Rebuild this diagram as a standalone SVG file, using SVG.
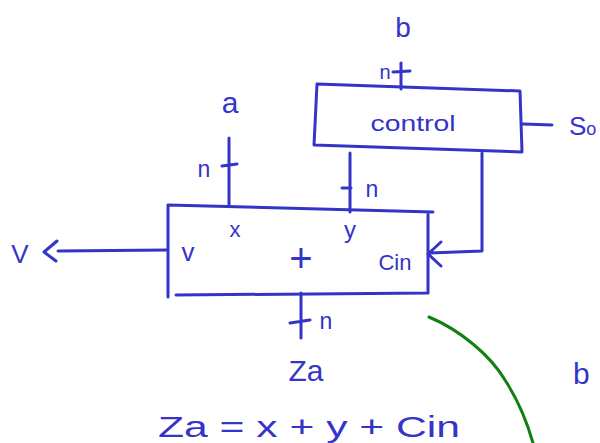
<svg xmlns="http://www.w3.org/2000/svg" width="600" height="443" viewBox="0 0 600 443">
<style>
.s{fill:none;stroke:#3434c8;stroke-width:3;stroke-linecap:round;stroke-linejoin:round}
.t{fill:#3434c8;font-family:"Liberation Sans",sans-serif}
.g{fill:none;stroke:#108010;stroke-width:3;stroke-linecap:round}
</style>
<rect width="600" height="443" fill="#ffffff"/>
<g id="control">
<path class="s" d="M317,84 L520,91 L522,152 L314,145 Z"/>
<text class="t" x="413" y="131" font-size="22" text-anchor="middle" textLength="85" lengthAdjust="spacingAndGlyphs">control</text>
</g>
<g id="adder">
<path class="s" d="M168,205 L168,297 M168,205 L433,212 M428,212 L428,293 M176,295 L428,293"/>
<text class="t" x="188" y="261" font-size="26" text-anchor="middle">v</text>
<text class="t" x="235" y="237" font-size="22" text-anchor="middle">x</text>
<text class="t" x="350" y="238" font-size="24" text-anchor="middle">y</text>
<text class="t" x="301" y="272" font-size="40" text-anchor="middle">+</text>
<text class="t" x="395" y="270" font-size="22" text-anchor="middle">Cin</text>
</g>
<g id="labels">
<text class="t" x="403" y="37" font-size="28" text-anchor="middle">b</text>
<text class="t" x="230" y="113" font-size="30" text-anchor="middle">a</text>
<text class="t" x="569" y="135" font-size="26">S<tspan font-size="18">o</tspan></text>
<text class="t" x="20" y="263" font-size="26" text-anchor="middle">V</text>
<text class="t" x="306" y="381" font-size="30" text-anchor="middle">Za</text>
<text class="t" x="158" y="437" font-size="30" textLength="302" lengthAdjust="spacingAndGlyphs">Za =  x + y + Cin</text>
<text class="t" x="573" y="384" font-size="30">b</text>
<text class="t" x="385" y="79" font-size="20" text-anchor="middle">n</text>
<text class="t" x="204" y="177" font-size="23" text-anchor="middle">n</text>
<text class="t" x="372" y="197" font-size="23" text-anchor="middle">n</text>
<text class="t" x="326" y="329" font-size="23" text-anchor="middle">n</text>
</g>
<g id="connectors">
<path class="s" d="M401,63 L401,89 M393,72 L410,71"/>
<path class="s" d="M229,138 L229,205 M222,166 L237,164"/>
<path class="s" d="M350,153 L350,212 M342,188 L351,188"/>
<path class="s" d="M482,153 L482,251 L430,253 M441,242 L428,254 L441,266"/>
<path class="s" d="M523,124 L552,125"/>
<path class="s" d="M167,250 L58,251 M57,241 L44,252 L56,261"/>
<path class="s" d="M301,293 L301,338 M290,323 L310,320"/>
<path class="g" d="M429,317 C460,330 490,355 505,380 C518,400 528,425 533,443"/>
</g>
</svg>
